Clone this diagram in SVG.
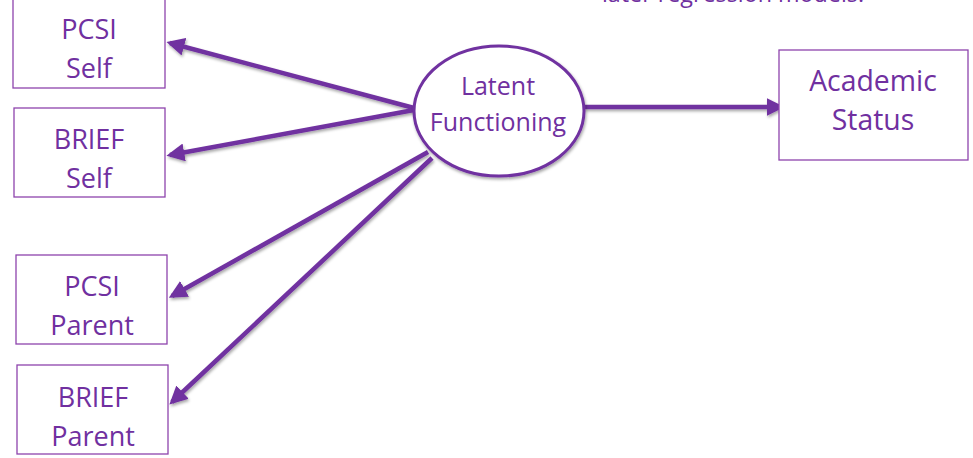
<svg xmlns="http://www.w3.org/2000/svg" width="973" height="458" viewBox="0 0 973 458">
<style>
.box{fill:#fff;stroke:#8e44ad;stroke-width:1.3}
.t{font-family:"Open Sans","Liberation Sans",sans-serif;font-size:27px;fill:#7030a0;text-anchor:middle}
.c{stroke:#7030a0;stroke-width:4.5;fill:none;marker-end:url(#ah);filter:url(#sh)}
</style>
<defs>
<marker id="ah" viewBox="0 0 10 10" refX="8" refY="5" markerWidth="4" markerHeight="4" orient="auto" markerUnits="strokeWidth">
<path d="M0,0 L10,5 L0,10 z" fill="#7030a0"/>
</marker>
<filter id="sh" filterUnits="userSpaceOnUse" x="0" y="0" width="973" height="458">
<feDropShadow dx="1" dy="2" stdDeviation="1.5" flood-color="#000" flood-opacity="0.35"/>
</filter>
</defs>
<text class="t" x="733" y="2" style="font-size:23.3px">later regression models.</text>
<g id="connectors">
<line class="c" x1="414" y1="108" x2="170" y2="43"/>
<line class="c" x1="414" y1="110" x2="170" y2="155"/>
<line class="c" x1="428" y1="152" x2="172" y2="296"/>
<line class="c" x1="432" y1="158" x2="172" y2="402"/>
<line class="c" x1="584" y1="107" x2="781" y2="107"/>
</g>
<g id="pcsi-self">
<rect class="box" x="13" y="-2" width="152" height="90"/>
<text class="t" x="89" y="39">PCSI</text>
<text class="t" x="89" y="78">Self</text>
</g>
<g id="brief-self">
<rect class="box" x="14" y="108" width="151" height="89"/>
<text class="t" x="89" y="149">BRIEF</text>
<text class="t" x="89" y="188">Self</text>
</g>
<g id="pcsi-parent">
<rect class="box" x="16" y="255" width="151" height="89"/>
<text class="t" x="92" y="296">PCSI</text>
<text class="t" x="92" y="335">Parent</text>
</g>
<g id="brief-parent">
<rect class="box" x="17" y="365" width="151" height="89"/>
<text class="t" x="93" y="407">BRIEF</text>
<text class="t" x="93" y="446">Parent</text>
</g>
<g id="latent">
<ellipse cx="499" cy="111" rx="85" ry="65" fill="#fff" stroke="#7030a0" stroke-width="3" filter="url(#sh)"/>
<text class="t" x="498" y="95" style="font-size:25px">Latent</text>
<text class="t" x="498" y="131" style="font-size:25px">Functioning</text>
</g>
<g id="academic">
<rect class="box" x="779" y="50" width="189" height="110"/>
<text class="t" x="873" y="91" style="font-size:28.4px">Academic</text>
<text class="t" x="873" y="130" style="font-size:28.4px">Status</text>
</g>
</svg>
